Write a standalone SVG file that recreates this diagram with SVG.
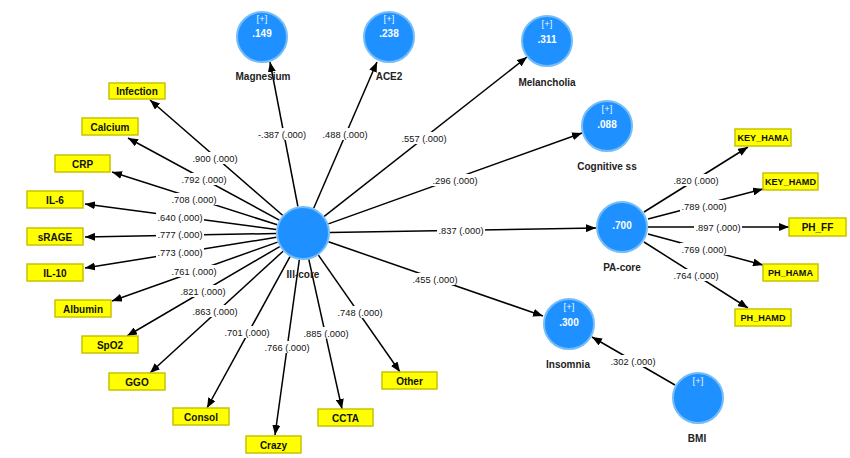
<svg xmlns="http://www.w3.org/2000/svg" width="850" height="458" viewBox="0 0 850 458">
<style>
.c{fill:#1e90ff;stroke:#74bdf7;stroke-width:2}
.b{fill:#ffff00;stroke:#c8c300;stroke-width:1.5}
.bt{font-family:"Liberation Sans",Arial,sans-serif;font-size:10px;font-weight:bold;fill:#111;text-anchor:middle}
.sm{font-size:9.1px}
.nl{font-family:"Liberation Sans",Arial,sans-serif;font-size:10px;font-weight:bold;fill:#222;text-anchor:middle}
.pl{font-family:"Liberation Sans",Arial,sans-serif;font-size:9.5px;fill:#e8f4ff;text-anchor:middle}
.vl{font-family:"Liberation Sans",Arial,sans-serif;font-size:10px;font-weight:bold;fill:#fff;text-anchor:middle}
.e{stroke:#000;stroke-width:1.5;fill:none;marker-end:url(#ah)}
.el{font-family:"Liberation Sans",Arial,sans-serif;font-size:9.3px;fill:#111;text-anchor:middle}
.lb{fill:#fff}
</style>
<defs>
<marker id="ah" markerUnits="userSpaceOnUse" markerWidth="10" markerHeight="8" refX="10" refY="4" orient="auto">
<path d="M0,0 L10,4 L0,8 z" fill="#000"/>
</marker>
</defs>
<rect width="850" height="458" fill="#fff"/>
<g id="connectors">
<line class="e" x1="297.9" y1="206.5" x2="270" y2="62"/>
<line class="e" x1="313.7" y1="208.2" x2="377" y2="62"/>
<line class="e" x1="324.2" y1="216.3" x2="527" y2="57"/>
<line class="e" x1="328.4" y1="223.9" x2="582" y2="133"/>
<line class="e" x1="330" y1="232.5" x2="596" y2="228"/>
<line class="e" x1="328.5" y1="241.8" x2="543" y2="316"/>
<line class="e" x1="318.4" y1="255.1" x2="400" y2="372"/>
<line class="e" x1="308.8" y1="259.4" x2="342" y2="409"/>
<line class="e" x1="299.3" y1="259.8" x2="275" y2="435"/>
<line class="e" x1="290" y1="256.7" x2="207" y2="408"/>
<line class="e" x1="283.1" y1="251.2" x2="150" y2="373"/>
<line class="e" x1="279.7" y1="246.6" x2="127" y2="336"/>
<line class="e" x1="277.6" y1="242.1" x2="112" y2="301"/>
<line class="e" x1="276.4" y1="237.3" x2="85" y2="268"/>
<line class="e" x1="276" y1="233.5" x2="85" y2="237"/>
<line class="e" x1="276.2" y1="229.4" x2="85" y2="204"/>
<line class="e" x1="277.3" y1="224.8" x2="112" y2="172"/>
<line class="e" x1="279.3" y1="220.1" x2="128" y2="138"/>
<line class="e" x1="282.6" y1="215.3" x2="150" y2="100"/>
<line class="e" x1="675" y1="385" x2="592" y2="337"/>
<line class="e" x1="644" y1="212" x2="748" y2="147"/>
<line class="e" x1="648" y1="219" x2="763" y2="189"/>
<line class="e" x1="648" y1="227" x2="789" y2="227"/>
<line class="e" x1="648" y1="234" x2="763" y2="265"/>
<line class="e" x1="644" y1="242" x2="748" y2="308"/>
<g>
<rect class="lb" x="257" y="128" width="50" height="12"/><text class="el" x="282" y="137.5">-.387 (.000)</text>
<rect class="lb" x="321" y="128" width="48" height="12"/><text class="el" x="345" y="137.5">.488 (.000)</text>
<rect class="lb" x="400" y="132" width="48" height="12"/><text class="el" x="424" y="141.5">.557 (.000)</text>
<rect class="lb" x="431" y="174" width="48" height="12"/><text class="el" x="455" y="183.5">.296 (.000)</text>
<rect class="lb" x="437" y="224" width="48" height="12"/><text class="el" x="461" y="233.5">.837 (.000)</text>
<rect class="lb" x="411" y="273" width="48" height="12"/><text class="el" x="435" y="282.5">.455 (.000)</text>
<rect class="lb" x="336" y="306" width="48" height="12"/><text class="el" x="360" y="315.5">.748 (.000)</text>
<rect class="lb" x="302" y="327" width="48" height="12"/><text class="el" x="326" y="336.5">.885 (.000)</text>
<rect class="lb" x="263" y="341" width="48" height="12"/><text class="el" x="287" y="350.5">.766 (.000)</text>
<rect class="lb" x="223" y="326" width="48" height="12"/><text class="el" x="247" y="335.5">.701 (.000)</text>
<rect class="lb" x="191" y="305" width="48" height="12"/><text class="el" x="215" y="314.5">.863 (.000)</text>
<rect class="lb" x="179" y="285" width="48" height="12"/><text class="el" x="203" y="294.5">.821 (.000)</text>
<rect class="lb" x="170" y="265" width="48" height="12"/><text class="el" x="194" y="274.5">.761 (.000)</text>
<rect class="lb" x="156" y="246" width="48" height="12"/><text class="el" x="180" y="255.5">.773 (.000)</text>
<rect class="lb" x="156" y="228" width="48" height="12"/><text class="el" x="180" y="237.5">.777 (.000)</text>
<rect class="lb" x="156" y="211" width="48" height="12"/><text class="el" x="180" y="220.5">.640 (.000)</text>
<rect class="lb" x="170" y="193" width="48" height="12"/><text class="el" x="194" y="202.5">.708 (.000)</text>
<rect class="lb" x="180" y="173" width="48" height="12"/><text class="el" x="204" y="182.5">.792 (.000)</text>
<rect class="lb" x="191" y="152" width="48" height="12"/><text class="el" x="215" y="161.5">.900 (.000)</text>
<rect class="lb" x="609" y="355" width="48" height="12"/><text class="el" x="633" y="364.5">.302 (.000)</text>
<rect class="lb" x="672" y="174" width="48" height="12"/><text class="el" x="696" y="183.5">.820 (.000)</text>
<rect class="lb" x="680" y="200" width="48" height="12"/><text class="el" x="704" y="209.5">.789 (.000)</text>
<rect class="lb" x="694" y="221" width="48" height="12"/><text class="el" x="718" y="230.5">.897 (.000)</text>
<rect class="lb" x="680" y="243" width="48" height="12"/><text class="el" x="704" y="252.5">.769 (.000)</text>
<rect class="lb" x="672" y="269" width="48" height="12"/><text class="el" x="696" y="278.5">.764 (.000)</text>
</g>
</g>
<g id="ill-core"><circle class="c" cx="303" cy="233" r="26"/><text class="nl" x="303" y="278">Ill-core</text></g>
<g id="magnesium"><circle class="c" cx="262" cy="37" r="25"/><text class="pl" x="262" y="22">[+]</text><text class="vl" x="262" y="37">.149</text><text class="nl" x="263" y="80">Magnesium</text></g>
<g id="ace2"><circle class="c" cx="389" cy="37" r="25"/><text class="pl" x="389" y="22">[+]</text><text class="vl" x="389" y="37">.238</text><text class="nl" x="389" y="80">ACE2</text></g>
<g id="melancholia"><circle class="c" cx="547" cy="41" r="25"/><text class="pl" x="547" y="27">[+]</text><text class="vl" x="547" y="43">.311</text><text class="nl" x="547" y="86">Melancholia</text></g>
<g id="cognitive"><circle class="c" cx="607" cy="126" r="25"/><text class="pl" x="607" y="112">[+]</text><text class="vl" x="607" y="128">.088</text><text class="nl" x="607" y="170">Cognitive ss</text></g>
<g id="pa-core"><circle class="c" cx="622" cy="227" r="25"/><text class="vl" x="622" y="229">.700</text><text class="nl" x="622" y="271">PA-core</text></g>
<g id="insomnia"><circle class="c" cx="569" cy="324" r="25"/><text class="pl" x="569" y="310">[+]</text><text class="vl" x="569" y="326">.300</text><text class="nl" x="568" y="368">Insomnia</text></g>
<g id="bmi"><circle class="c" cx="698" cy="398" r="25"/><text class="pl" x="698" y="384">[+]</text><text class="nl" x="697" y="442">BMI</text></g>
<g id="infection"><rect class="b" x="109" y="83" width="56" height="16"/><text class="bt" x="137" y="95">Infection</text></g>
<g id="calcium"><rect class="b" x="82" y="118" width="56" height="17"/><text class="bt" x="110" y="130.5">Calcium</text></g>
<g id="crp"><rect class="b" x="55" y="155" width="55" height="17"/><text class="bt" x="82.5" y="167.5">CRP</text></g>
<g id="il6"><rect class="b" x="27" y="191" width="56" height="17"/><text class="bt" x="55" y="203.5">IL-6</text></g>
<g id="srage"><rect class="b" x="27" y="228" width="56" height="17"/><text class="bt" x="55" y="240.5">sRAGE</text></g>
<g id="il10"><rect class="b" x="27" y="264" width="56" height="17"/><text class="bt" x="55" y="276.5">IL-10</text></g>
<g id="albumin"><rect class="b" x="55" y="300" width="56" height="17"/><text class="bt" x="83" y="312.5">Albumin</text></g>
<g id="spo2"><rect class="b" x="82" y="336" width="56" height="17"/><text class="bt" x="110" y="348.5">SpO2</text></g>
<g id="ggo"><rect class="b" x="109" y="373" width="56" height="17"/><text class="bt" x="137" y="385.5">GGO</text></g>
<g id="consol"><rect class="b" x="173" y="408" width="56" height="17"/><text class="bt" x="201" y="420.5">Consol</text></g>
<g id="crazy"><rect class="b" x="246" y="436" width="55" height="17"/><text class="bt" x="273.5" y="448.5">Crazy</text></g>
<g id="ccta"><rect class="b" x="318" y="409" width="55" height="17"/><text class="bt" x="345.5" y="421.5">CCTA</text></g>
<g id="other"><rect class="b" x="382" y="372" width="55" height="17"/><text class="bt" x="409.5" y="384.5">Other</text></g>
<g id="key_hama"><rect class="b" x="735" y="129" width="56" height="17"/><text class="bt sm" x="763" y="141">KEY_HAMA</text></g>
<g id="key_hamd"><rect class="b" x="763" y="173" width="55" height="17"/><text class="bt sm" x="790.5" y="185">KEY_HAMD</text></g>
<g id="ph_ff"><rect class="b" x="789" y="218" width="57" height="18"/><text class="bt" x="817.5" y="231">PH_FF</text></g>
<g id="ph_hama"><rect class="b" x="763" y="264" width="55" height="17"/><text class="bt sm" x="790.5" y="276">PH_HAMA</text></g>
<g id="ph_hamd"><rect class="b" x="735" y="309" width="56" height="17"/><text class="bt sm" x="763" y="321">PH_HAMD</text></g>
</svg>
